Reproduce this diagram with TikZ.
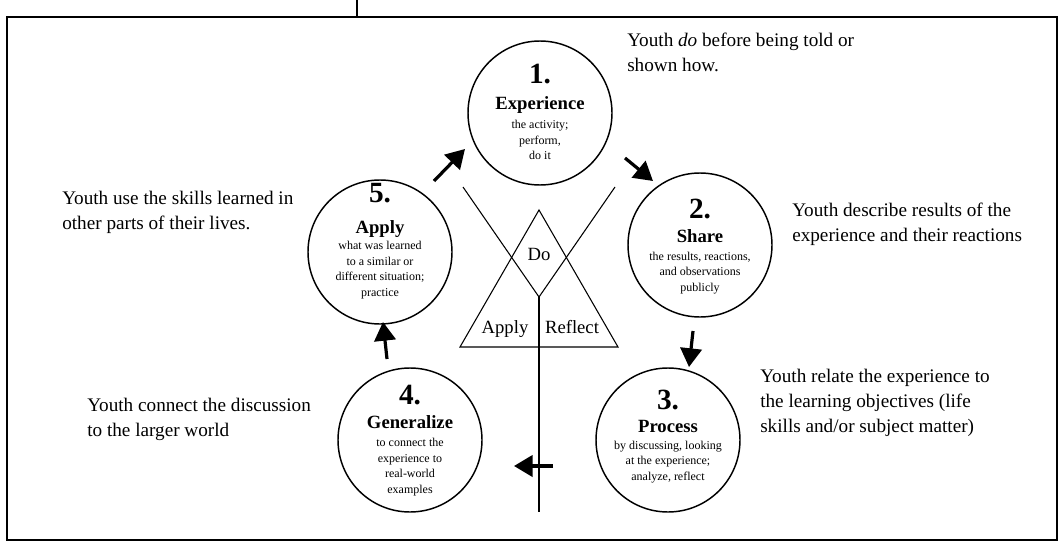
\documentclass[tikz,border=0pt]{standalone}
\usepackage{fontspec}
\setmainfont{Liberation Serif}
\usepackage{tikz}
\usetikzlibrary{arrows.meta,positioning}
\tikzset{stage/.style={draw, circle, line width=1.1pt, minimum size=108pt, inner sep=0pt}}
\tikzset{stagenum/.style={font=\fontsize{22}{22}\selectfont\bfseries, anchor=base, inner sep=0pt}}
\tikzset{stagetitle/.style={font=\fontsize{14}{14}\selectfont\bfseries, anchor=base, inner sep=0pt}}
\tikzset{stagetext/.style={font=\fontsize{9}{11.6}\selectfont, align=center, inner sep=0pt}}
\tikzset{youth/.style={font=\fontsize{14.4}{18.6}\selectfont, align=left, anchor=base west, inner sep=0pt}}
\tikzset{cycle arrow/.style={line width=2.4pt, -{Triangle[length=14pt,width=16pt]}}}
\tikzset{model line/.style={line width=0.8pt}}
\tikzset{model label/.style={font=\fontsize{14}{14}\selectfont, anchor=base, inner sep=0pt}}

\begin{document}
\begin{tikzpicture}[x=0.75pt,y=-0.75pt]
\useasboundingbox (0,0) rectangle (1061,546);
\draw[line width=1.1pt] (7,17) rectangle (1057,540);
\draw[line width=1.1pt] (357,0) -- (357,17);

% the five stages
\node[stage] (experience) at (540,113) {};
\node[stagenum] (num1) at (540,83) {1.};
\node[stagetitle] (title1) at (540,109) {Experience};
\node[stagetext] (text1) at (540,140) {the activity;\\perform,\\do it};

\node[stage] (share) at (700,245) {};
\node[stagenum] (num2) at (700,218) {2.};
\node[stagetitle] (title2) at (700,242) {Share};
\node[stagetext] (text2) at (700,273) {the results, reactions,\\and observations\\publicly};

\node[stage] (process) at (668,440) {};
\node[stagenum] (num3) at (668,409) {3.};
\node[stagetitle] (title3) at (668,432) {Process};
\node[stagetext] (text3) at (668,462) {by discussing, looking\\at the experience;\\analyze, reflect};

\node[stage] (generalize) at (410,440) {};
\node[stagenum] (num4) at (410,404) {4.};
\node[stagetitle] (title4) at (410,428) {Generalize};
\node[stagetext] (text4) at (410,467) {to connect the\\experience to\\real-world\\examples};

\node[stage] (apply) at (380,252) {};
\node[stagenum] (num5) at (380,202) {5.};
\node[stagetitle] (title5) at (380,233) {Apply};
\node[stagetext] (text5) at (380,270) {what was learned\\to a similar or\\different situation;\\practice};

% arrows between the stages
\coordinate (a12) at (625,158); \coordinate (b12) at (653,181);
\coordinate (a23) at (693,331); \coordinate (b23) at (689,367);
\coordinate (a34) at (553,466); \coordinate (b34) at (514,466);
\coordinate (a45) at (387,359); \coordinate (b45) at (383,322);
\coordinate (a51) at (434,181); \coordinate (b51) at (465,149);
\draw[cycle arrow] (a12) -- (b12);
\draw[cycle arrow] (a23) -- (b23);
\draw[cycle arrow] (a34) -- (b34);
\draw[cycle arrow] (a45) -- (b45);
\draw[cycle arrow] (a51) -- (b51);

% do - reflect - apply in the middle
\draw[model line] (539,210) -- (460,347) -- (618,347) -- cycle;
\coordinate (vtop) at (539,297);
\draw[model line] (463,187) -- (vtop) -- (615,187);
\draw[model line] (vtop) -- (539,512);
\node[model label] (do) at (539,260) {Do};
\node[model label] (applylbl) at (505,333) {Apply};
\node[model label] (reflectlbl) at (572,333) {Reflect};

% what youth do
\node[youth] (t1) at (627,71) {Youth \emph{do} before being told or\\shown how.};
\node[youth] (t2) at (792,241) {Youth describe results of the\\experience and their reactions};
\node[youth] (t3) at (760,432) {Youth relate the experience to\\the learning objectives (life\\skills and/or subject matter)};
\node[youth] (t4) at (87,436) {Youth connect the discussion\\to the larger world};
\node[youth] (t5) at (62,229) {Youth use the skills learned in\\other parts of their lives.};
\end{tikzpicture}
\end{document}
